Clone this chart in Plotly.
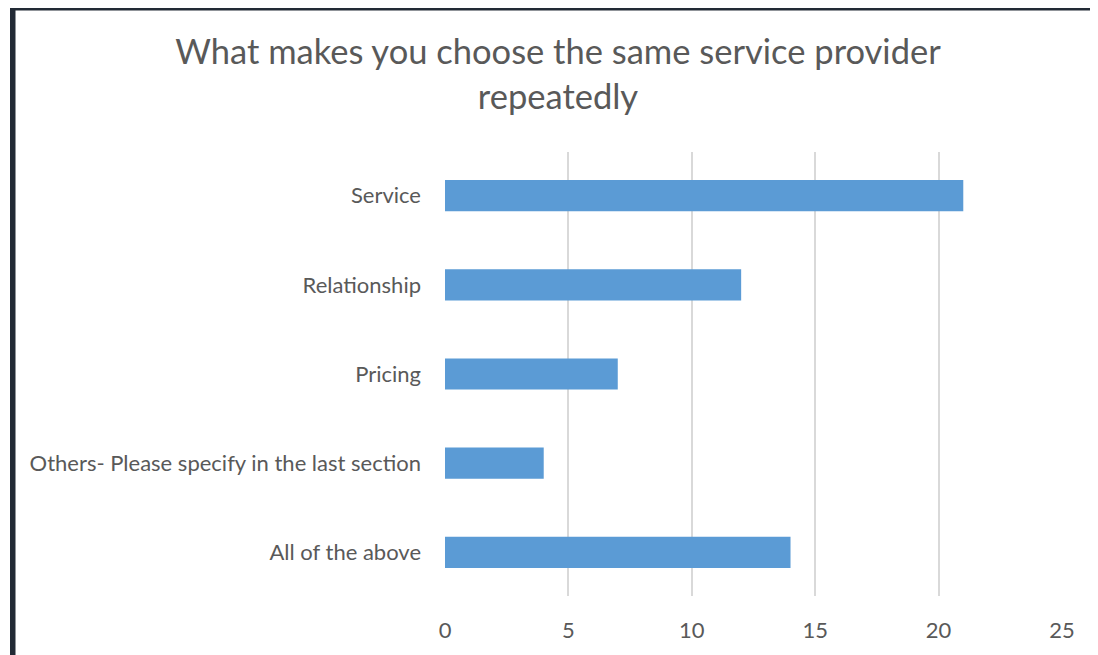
import plotly.graph_objects as go

categories = ["Service", "Relationship", "Pricing",
              "Others- Please specify in the last section", "All of the above"]
values = [21, 12, 7, 4, 14]
x_ticks = [0, 5, 10, 15, 20, 25]

# page body has an 8px margin, so the figure is 8px smaller on each leading side
W, H = 1090, 647
L, R, T, B = 437, 36, 144, 56

fig = go.Figure(go.Bar(
    y=categories, x=values, orientation="h",
    marker=dict(color="#5b9bd5", line=dict(width=0)),
    width=0.35,
))

pw = W - L - R
ph = H - T - B

def px(xf):
    return (xf - L) / pw

def py(yf):
    return (H - B - yf) / ph

FONT = "Lato, Open Sans, sans-serif"

fig.update_layout(
    width=W, height=H,
    margin=dict(l=L, r=R, t=T, b=B),
    paper_bgcolor="white", plot_bgcolor="white",
    showlegend=False,
    title=dict(
        text="What makes you choose the same service provider<br>repeatedly",
        x=550 / W, xanchor="center", y=1 - 56 / H, yanchor="top",
        font=dict(family=FONT, size=34.5, color="#595959"),
    ),
    font=dict(family=FONT, size=22, color="#595959"),
    xaxis=dict(
        range=[0, 25], tickvals=x_ticks, showgrid=True, gridcolor="#d9d9d9",
        gridwidth=2, zeroline=False, showline=False, ticks="",
        ticklabelstandoff=19, tickfont=dict(size=22, color="#595959"), fixedrange=True,
    ),
    yaxis=dict(
        categoryorder="array", categoryarray=categories[::-1],
        range=[-0.49, 4.49], showgrid=False, zeroline=False, showline=False,
        ticks="", ticklabelstandoff=23, tickfont=dict(size=22, color="#595959"),
    ),
    shapes=[
        dict(type="rect", xref="paper", yref="paper",
             x0=px(2), x1=px(7.5), y0=py(H + 5), y1=py(-2),
             fillcolor="#222a35", line=dict(width=0), layer="above"),
        dict(type="rect", xref="paper", yref="paper",
             x0=px(2), x1=px(W + 5), y0=py(1.5), y1=py(-2),
             fillcolor="#222a35", line=dict(width=0), layer="above"),
    ],
)

fig.write_html("out.html")
